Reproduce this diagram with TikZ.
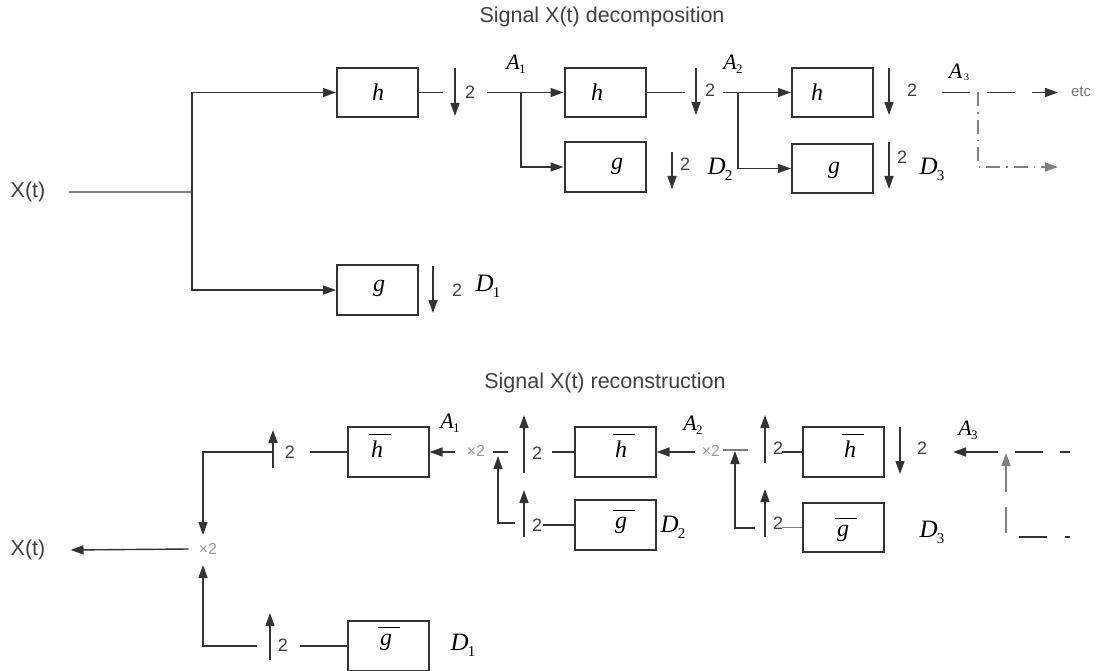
\documentclass[tikz,border=0pt]{standalone}
\usepackage{fontspec}
\setmainfont{Liberation Serif}
\setsansfont{Liberation Sans}
\usetikzlibrary{arrows.meta}

% filter name with an overbar (synthesis filters)
\newcommand{\barred}[1]{\vbox{\hrule height 1.3pt\kern 6pt\hbox{\kern2pt\itshape #1\kern8pt}}}
% approximation / detail coefficient labels
\newcommand{\alab}[1]{{\itshape A}\kern-0.5pt\raisebox{-4pt}{\fontsize{13}{13}\selectfont #1}}
\newcommand{\dlab}[1]{{\itshape D}\kern-1pt\raisebox{-6pt}{\fontsize{15}{15}\selectfont #1}}

\tikzset{
  wire/.style={draw=black!80, line width=1.4pt},
  lightwire/.style={draw=black!50, line width=1.4pt},
  tip/.style={-{Triangle[length=13pt,width=9pt]}},
  fbox/.style={draw=black!80, line width=2pt, minimum width=81pt, minimum height=49.5pt, inner sep=0pt},
  ttl/.style={font=\sffamily\fontsize{21.5}{24}\selectfont, text=black!75, inner sep=0pt},
  num/.style={font=\sffamily\fontsize{18}{19}\selectfont, text=black!75, inner sep=0pt},
  mult/.style={font=\sffamily\fontsize{16}{18}\selectfont, text=black!40, inner sep=0pt},
  etcl/.style={font=\sffamily\fontsize{15}{18}\selectfont, text=black!55, inner sep=0pt},
  coef/.style={font=\fontsize{22}{24}\selectfont, inner sep=0pt},
  dcoef/.style={font=\fontsize{25}{27}\selectfont, inner sep=0pt},
  flt/.style={font=\fontsize{24}{26}\selectfont\itshape, inner sep=0pt},
}

\begin{document}
\begin{tikzpicture}[x=1pt,y=-1pt]
\useasboundingbox (0,0) rectangle (1097,671);
\fill[white] (0,0) rectangle (1097,671);

% ================= decomposition =================
\node[ttl] (title1) at (602,16.5) {Signal X(t) decomposition};

\node[fbox] (h1) at (377.5,92.5) {};
\node[fbox] (g1) at (377.5,290) {};
\node[fbox] (h2) at (605,92.5) {};
\node[fbox] (g2) at (605,167) {};
\node[fbox] (h3) at (832.5,92.5) {};
\node[fbox] (g3) at (832.5,168.5) {};

\node[flt] (h1t) at (378,92) {h};
\node[flt] (g1t) at (379,288) {g};
\node[flt] (h2t) at (597,92) {h};
\node[flt] (g2t) at (617,166) {g};
\node[flt] (h3t) at (817,92) {h};
\node[flt] (g3t) at (834,170) {g};

% input and first split
\node[ttl] (xin) at (28,192) {X(t)};
\coordinate (s0) at (192,192);
\draw[lightwire] ([xshift=23pt]xin.east) -- (s0);
\draw[wire,tip] (s0) |- (h1.west);
\draw[wire,tip] (s0) |- (g1.west);

% level 1
\coordinate (d1a) at (455,68);  \coordinate (d1b) at (455,116);
\coordinate (e1a) at (433,266); \coordinate (e1b) at (433,313);
\draw[wire] (h1.east) -- (443,92.5);
\draw[wire,tip] (d1a) -- (d1b);
\node[num] (n1) at (470,92) {2};
\draw[wire,tip] (e1a) -- (e1b);
\node[num] (n2) at (457,290) {2};
\node[dcoef] (D1) at (488,286) {\dlab{1}};
\node[coef] (A1) at (516,64) {\alab{1}};
\coordinate (b1) at (521,92.5);
\draw[wire,tip] (487,92.5) -- (b1) -- (h2.west);
\draw[wire,tip] (b1) |- (g2.west);

% level 2
\coordinate (d2a) at (696,68);  \coordinate (d2b) at (696,115);
\coordinate (e2a) at (672,152); \coordinate (e2b) at (672,189);
\draw[wire] (h2.east) -- (685,92.5);
\draw[wire,tip] (d2a) -- (d2b);
\node[num] (n3) at (710,90) {2};
\draw[wire,tip] (e2a) -- (e2b);
\node[num] (n4) at (685,164) {2};
\node[dcoef] (D2) at (720,169) {\dlab{2}};
\node[coef] (A2) at (733,64) {\alab{2}};
\coordinate (b2) at (738,92.5);
\draw[wire,tip] (723,92.5) -- (b2) -- (h3.west);
\draw[wire,tip] (b2) |- (g3.west);

% level 3
\coordinate (d3a) at (889,68);  \coordinate (d3b) at (889,115);
\coordinate (e3a) at (889,142); \coordinate (e3b) at (889,189);
\draw[wire,tip] (d3a) -- (d3b);
\node[num] (n5) at (912,90) {2};
\draw[wire,tip] (e3a) -- (e3b);
\node[num] (n6) at (902,157) {2};
\node[dcoef] (D3) at (932,169) {\dlab{3}};
\node[coef] (A3) at (959,72) {{\itshape A}\kern2pt\raisebox{-2pt}{\fontsize{10}{10}\selectfont 3}};

% continuation
\coordinate (b3) at (978,92.5);
\coordinate (c3) at (1058,92.5);
\coordinate (c4) at (1058,167);
\draw[wire,tip,dash pattern=on 28pt off 17pt] (942,92.5) -- (c3);
\node[etcl] (etc) at (1081,92) {etc};
\draw[lightwire,tip,dash pattern=on 14pt off 6pt on 1.5pt off 6pt] (b3) |- (c4);

% ================= reconstruction =================
\node[ttl] (title2) at (605,383) {Signal X(t) reconstruction};

\node[fbox] (hb1) at (388,452) {};
\node[fbox] (gb1) at (388,646) {};
\node[fbox] (hb2) at (615,452) {};
\node[fbox] (gb2) at (615,525) {};
\node[fbox] (hb3) at (843,452) {};
\node[fbox] (gb3) at (843,527.5) {};

\node[flt] (hb1t) at (380,446) {\barred{h}};
\node[flt] (gb1t) at (389,639) {\barred{g}};
\node[flt] (hb2t) at (624,446) {\barred{h}};
\node[flt] (gb2t) at (624,522) {\barred{g}};
\node[flt] (hb3t) at (853,446) {\barred{h}};
\node[flt] (gb3t) at (846,530) {\barred{g}};

% output stage
\node[ttl] (xout) at (28,550) {X(t)};
\node[mult] (m0) at (208,549) {×2};
\draw[wire,tip] ([xshift=-10pt]m0.west) -- ([xshift=25pt]xout.east);

\coordinate (j0t) at (203,535);
\coordinate (j0b) at (203,565);
\coordinate (u1a) at (273,468); \coordinate (u1b) at (273,430);
\draw[wire,tip] (u1a) -- (u1b);
\node[num] (r1) at (290,452) {2};
\draw[wire] (310,452) -- (hb1.west);
\draw[wire,tip] (273,452) -| (j0t);

\coordinate (u2a) at (270,660); \coordinate (u2b) at (270,613);
\draw[wire,tip] (u2a) -- (u2b);
\node[num] (r2) at (283,645) {2};
\draw[wire] (300,646) -- (gb1.west);
\draw[wire,tip] (257,646) -| (j0b);
\node[dcoef] (RD1) at (463,645) {\dlab{1}};
\node[coef] (RA1) at (450,423) {\alab{1}};

% second stage
\node[mult] (m1) at (476,451) {×2};
\draw[wire,tip] (455,452) -- (hb1.east);
\draw[wire] (493,452) -- (508,452);
\coordinate (k1) at (498,456);
\draw[wire,tip] (515,523) -| (k1);
\coordinate (u3a) at (524,537); \coordinate (u3b) at (524,490);
\coordinate (u4a) at (524,473); \coordinate (u4b) at (524,415);
\draw[wire,tip] (u3a) -- (u3b);
\draw[wire,tip] (u4a) -- (u4b);
\node[num] (r3) at (537,525) {2};
\node[num] (r4) at (537,453) {2};
\draw[wire] (543,525) -- (gb2.west);
\draw[wire] (552,452) -- (hb2.west);
\node[dcoef] (RD2) at (673,527) {\dlab{2}};
\node[coef] (RA2) at (693,425) {\alab{2}};

% third stage
\node[mult] (m2) at (711,451) {×2};
\draw[wire,tip] (695,452) -- (hb2.east);
\draw[lightwire] (723,450) -- (748,450);
\coordinate (k2) at (735,451);
\draw[wire,tip] (755,528) -| (k2);
\coordinate (u5a) at (765,463); \coordinate (u5b) at (765,415);
\coordinate (u6a) at (765,537); \coordinate (u6b) at (765,489);
\draw[wire,tip] (u5a) -- (u5b);
\draw[wire,tip] (u6a) -- (u6b);
\node[num] (r5) at (778,448) {2};
\node[num] (r6) at (778,523) {2};
\draw[wire] (782,452) -- (hb3.west);
\draw[lightwire] (782,527.5) -- (gb3.west);
\coordinate (v1a) at (900,427); \coordinate (v1b) at (900,474);
\draw[wire,tip] (v1a) -- (v1b);
\node[num] (r7) at (922,448) {2};
\node[dcoef] (RD3) at (932,532) {\dlab{3}};
\node[coef] (RA3) at (968,430) {\alab{3}};

% incoming coarser levels
\coordinate (w1) at (953,452);
\draw[wire,tip] (998,452) -- (w1);
\coordinate (w2a) at (1006,492); \coordinate (w2b) at (1006,453);
\draw[lightwire,tip] (w2a) -- (w2b);
\draw[wire,dash pattern=on 28pt off 17pt] (1015,452) -- (1070,452);
\draw[lightwire] (1006,507) -- (1006,533);
\draw[wire,dash pattern=on 28pt off 18pt] (1019,537) -- (1070,537);
\end{tikzpicture}
\end{document}
